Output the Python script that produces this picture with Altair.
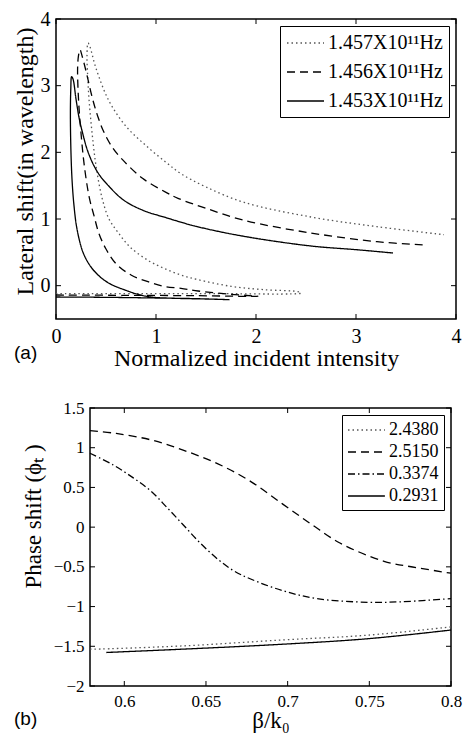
import altair as alt
import pandas as pd

# ---------------- Panel (a) data ----------------
A_SERIES = ["1.457X10¹¹Hz", "1.456X10¹¹Hz", "1.453X10¹¹Hz"]

A1457_X = [0.0, 0.8, 1.6, 2.45, 2.42, 2.08, 1.75, 1.42, 1.25, 1.08, 0.92, 0.74, 0.62, 0.53, 0.46,
           0.40, 0.36, 0.33, 0.315, 0.31, 0.32, 0.34, 0.40, 0.53, 0.70, 0.90, 1.10, 1.25, 1.50,
           1.88, 2.55, 3.21, 3.88]
A1457_Y = [-0.12, -0.12, -0.12, -0.11, -0.09, -0.06, -0.01, 0.09, 0.16, 0.26, 0.38, 0.58, 0.80, 1.0, 1.32,
           1.80, 2.30, 2.80, 3.20, 3.45, 3.64, 3.58, 3.26, 2.77, 2.39, 2.10, 1.85, 1.68, 1.48,
           1.25, 1.03, 0.885, 0.765]

A1456_X = [0.0, 0.7, 1.4, 2.02, 1.75, 1.42, 1.25, 1.08, 0.92, 0.75, 0.60, 0.50, 0.43, 0.38, 0.333,
           0.283, 0.25, 0.226, 0.216, 0.225, 0.24, 0.26, 0.30, 0.366, 0.42, 0.48, 0.57, 0.665, 0.865,
           1.10, 1.22, 1.50, 1.88, 2.55, 3.21, 3.68]
A1456_Y = [-0.14, -0.145, -0.15, -0.16, -0.13, -0.08, -0.04, -0.01, 0.06, 0.16, 0.33, 0.55, 0.78, 1.05, 1.32,
           1.80, 2.29, 2.77, 3.26, 3.45, 3.54, 3.45, 3.22, 2.80, 2.53, 2.30, 2.06, 1.89, 1.61,
           1.40, 1.31, 1.16, 0.98, 0.79, 0.66, 0.61]

A1453_X = [0.0, 0.5, 1.0, 1.4, 1.73, 1.5, 1.2, 0.95, 0.82, 0.68, 0.55, 0.45, 0.35, 0.27, 0.21,
           0.18, 0.16, 0.148, 0.144, 0.148, 0.156, 0.17, 0.20, 0.233, 0.266, 0.31, 0.366, 0.43, 0.50,
           0.67, 0.87, 1.10, 1.40, 1.88, 2.55, 3.0, 3.37]
A1453_Y = [-0.17, -0.175, -0.185, -0.195, -0.21, -0.20, -0.19, -0.17, -0.13, -0.06, 0.02, 0.12, 0.28, 0.50, 0.85,
           1.20, 1.60, 2.10, 2.60, 2.95, 3.135, 3.10, 2.80, 2.50, 2.29, 2.05, 1.84, 1.67, 1.54,
           1.29, 1.13, 1.02, 0.89, 0.74, 0.595, 0.54, 0.49]

A_XTICKS = [0, 1, 2, 3, 4]
A_YTICKS = [0, 1, 2, 3, 4]

# ---------------- Panel (b) data ----------------
B_SERIES = ["2.4380", "2.5150", "0.3374", "0.2931"]

B24380_X = [0.579, 0.582, 0.636, 0.697, 0.749, 0.798, 0.80]
B24380_Y = [-1.536, -1.536, -1.495, -1.42, -1.36, -1.26, -1.255]

B25150_X = [0.579, 0.595, 0.616, 0.636, 0.657, 0.677, 0.697, 0.715, 0.732, 0.759, 0.779, 0.80]
B25150_Y = [1.215, 1.18, 1.10, 0.97, 0.80, 0.58, 0.29, 0.03, -0.20, -0.43, -0.51, -0.58]

B03374_X = [0.579, 0.5935, 0.6055, 0.616, 0.626, 0.636, 0.646, 0.657, 0.667, 0.677, 0.697, 0.718, 0.749, 0.769, 0.80]
B03374_Y = [0.93, 0.78, 0.62, 0.46, 0.25, 0.03, -0.19, -0.40, -0.55, -0.65, -0.80, -0.90, -0.946, -0.94, -0.90]

B02931_X = [0.589, 0.636, 0.697, 0.749, 0.798, 0.80]
B02931_Y = [-1.578, -1.536, -1.474, -1.405, -1.30, -1.295]

B_XTICKS = [0.6, 0.65, 0.7, 0.75, 0.8]
B_YTICKS = [-2, -1.5, -1, -0.5, 0, 0.5, 1, 1.5]


def frame(series_names, xs, ys):
    rows = []
    for name, xv, yv in zip(series_names, xs, ys):
        for i, (a, b) in enumerate(zip(xv, yv)):
            rows.append({"x": a, "y": b, "series": name, "idx": i})
    return pd.DataFrame(rows)


df_a = frame(A_SERIES, [A1457_X, A1456_X, A1453_X], [A1457_Y, A1456_Y, A1453_Y])
df_b = frame(B_SERIES, [B24380_X, B25150_X, B03374_X, B02931_X], [B24380_Y, B25150_Y, B03374_Y, B02931_Y])

SERIF = "Liberation Serif"
SANS = "Liberation Sans"
TICK = 5
FRAME = alt.ViewBackground(stroke="black", strokeWidth=1.5, fill="white")


def panel(df, W, H, xdom, ydom, xticks, yticks, xtitle, ytitle, series, dashes, colors,
          tick_fs, title_fs, legend_fs, legend_rowpad, legend_pad, sym_path, sym_label_off,
          letter, letter_xy, ytitle_pad, xtitle_pad, ytitle_y):
    xscale = alt.Scale(domain=xdom, nice=False, zero=False)
    yscale = alt.Scale(domain=ydom, nice=False, zero=False)
    xaxis = alt.Axis(values=xticks, format="~g", title=xtitle, tickSize=0, labelPadding=7,
                     domain=False, grid=False, labelFont=SERIF, labelFontSize=tick_fs,
                     titleFont=SERIF, titleFontSize=title_fs, titleFontWeight="normal",
                     titlePadding=xtitle_pad, labelColor="black", titleColor="black",
                     labelFlush=False)
    yaxis = alt.Axis(values=yticks, format="~g", title=ytitle, tickSize=0, labelPadding=6,
                     domain=False, grid=False, labelFont=SERIF, labelFontSize=tick_fs,
                     titleFont=SERIF, titleFontSize=title_fs, titleFontWeight="normal",
                     titlePadding=ytitle_pad, labelColor="black", titleColor="black",
                     labelFlush=False, titleY=ytitle_y)
    legend = alt.Legend(title=None, orient="top-right", offset=7, strokeColor="black",
                        fillColor="white", padding=legend_pad, labelFont=SERIF, labelFontSize=legend_fs,
                        labelColor="black", symbolType=sym_path, symbolSize=legend_fs * legend_fs,
                        symbolStrokeWidth=1.3, rowPadding=legend_rowpad, labelOffset=sym_label_off,
                        cornerRadius=0)
    lines = alt.Chart(df).mark_line(strokeWidth=1.3, interpolate="catmull-rom").encode(
        x=alt.X("x:Q", scale=xscale, axis=xaxis),
        y=alt.Y("y:Q", scale=yscale, axis=yaxis),
        strokeDash=alt.StrokeDash("series:N", scale=alt.Scale(domain=series, range=dashes), legend=legend),
        color=alt.Color("series:N", scale=alt.Scale(domain=series, range=colors), legend=legend),
        order=alt.Order("idx:Q"),
    )
    xt = pd.DataFrame({"v": xticks})
    yt = pd.DataFrame({"v": yticks})
    tx = alt.X("v:Q", scale=xscale, axis=xaxis)
    ty = alt.Y("v:Q", scale=yscale, axis=yaxis)
    rb = alt.Chart(xt).mark_rule(color="black", strokeWidth=1).encode(x=tx, y=alt.value(H), y2=alt.value(H - TICK))
    rt = alt.Chart(xt).mark_rule(color="black", strokeWidth=1).encode(x=tx, y=alt.value(0), y2=alt.value(TICK))
    rl = alt.Chart(yt).mark_rule(color="black", strokeWidth=1).encode(y=ty, x=alt.value(0), x2=alt.value(TICK))
    rr = alt.Chart(yt).mark_rule(color="black", strokeWidth=1).encode(y=ty, x=alt.value(W - TICK), x2=alt.value(W))
    lab = alt.Chart(pd.DataFrame({"t": [letter]})).mark_text(
        font=SANS, fontSize=19, align="left", baseline="middle", color="black"
    ).encode(x=alt.value(letter_xy[0]), y=alt.value(letter_xy[1]), text="t:N")
    return alt.layer(lines, rb, rt, rl, rr, lab).properties(width=W, height=H, view=FRAME)


W_A, H_A = 400, 300
top = panel(df_a, W_A, H_A, [0, 4], [-0.5, 4], A_XTICKS, A_YTICKS,
            "Normalized incident intensity", "Lateral shift(in wavelength)",
            A_SERIES, [[1.5, 3], [8, 5], [1, 0]], ["#555555", "black", "black"],
            20, 24, 20, 8, 6, "M-1,0H2.7", 20,
            "(a)", (-42, H_A + 34), 3, 0, 142)

W_B, H_B = 361, 278
bottom = panel(df_b, W_B, H_B, [0.579, 0.8], [-2, 1.5], B_XTICKS, B_YTICKS,
               "β/k₀", "Phase shift (ϕₜ\u00a0)",
               B_SERIES, [[1.5, 3], [8, 5], [7, 3, 1.5, 3], [1, 0]],
               ["#555555", "black", "black", "black"],
               17, 23, 18, 3, 5, "M-1,0H3.1", 22,
               "(b)", (-76, H_B + 33), 8, 0, 108)

spacer = alt.Chart(pd.DataFrame({"t": [""]})).mark_text(opacity=0).encode(
    x=alt.value(0), y=alt.value(0), text="t:N"
).properties(width=34, height=10, view=alt.ViewBackground(stroke="transparent", fill="transparent"))

bottom_row = alt.hconcat(spacer, bottom, spacing=0, bounds="flush").resolve_scale(
    color="independent", strokeDash="independent"
).resolve_legend(
    color="independent", strokeDash="independent"
)

chart = alt.vconcat(top, bottom_row, spacing=27).resolve_scale(
    color="independent", strokeDash="independent"
).resolve_legend(
    color="independent", strokeDash="independent"
).properties(
    padding={"left": 4, "top": 0, "right": 0, "bottom": 0}
).configure_legend(strokeWidth=1.5).configure(background="white")

chart.save("out.html", embed_options={"renderer": "svg", "actions": False})
